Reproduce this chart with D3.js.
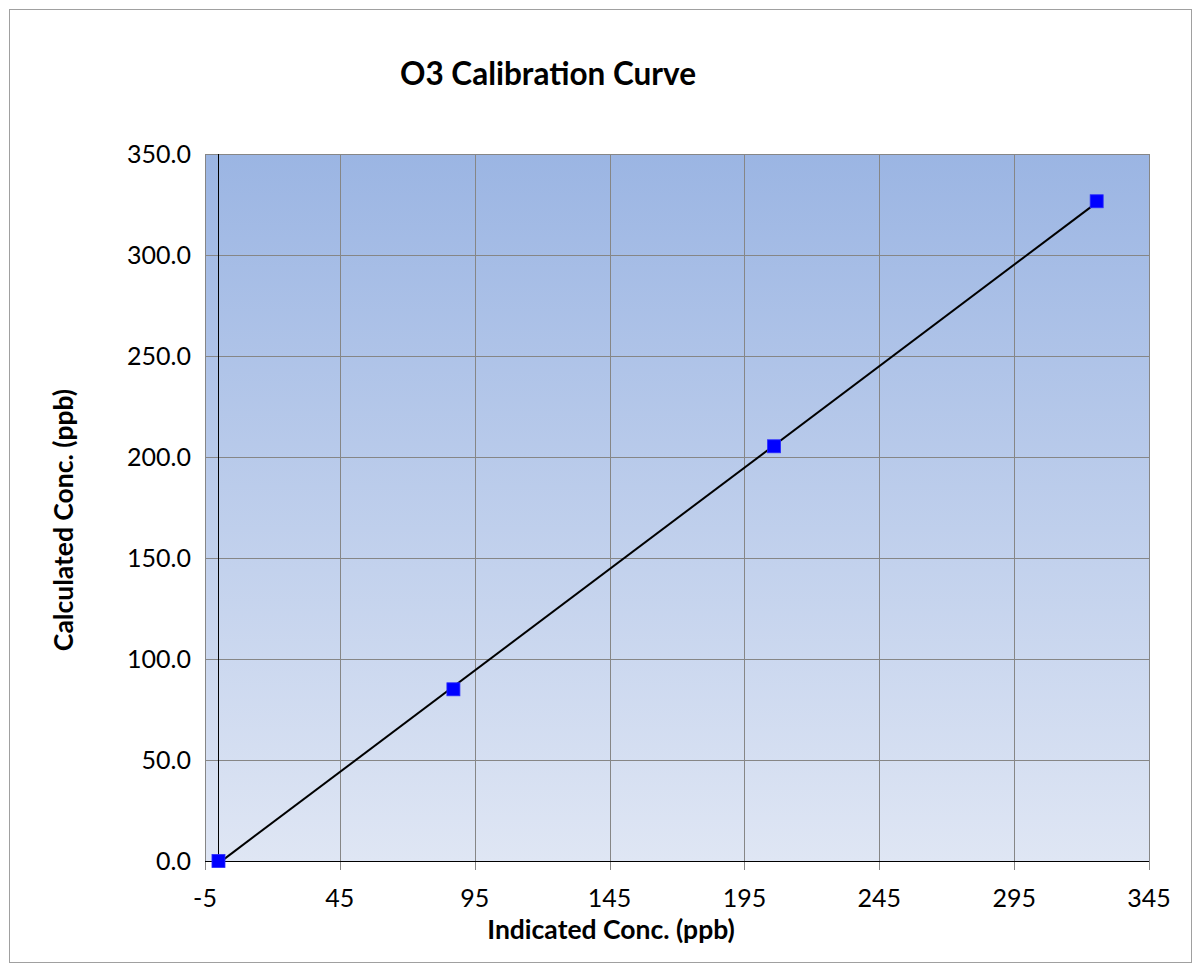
<!DOCTYPE html>
<html>
<head>
<meta charset="utf-8">
<script src="https://cdn.jsdelivr.net/npm/d3@7"></script>
<style>
  body { margin: 0; background: #fff; }
  text { font-family: Lato, "Open Sans", sans-serif; fill: #000; }
</style>
</head>
<body>
<div id="chart"></div>
<script>
// readings off the calibration (indicated vs calculated, ppb)
const indicated = [0, 87.1, 206.0, 325.6];
const calculated = [0, 85.0, 205.3, 326.6];
const xTicks = [-5, 45, 95, 145, 195, 245, 295, 345];
const yTicks = [0, 50, 100, 150, 200, 250, 300, 350];

const width = 1201, height = 972;
const margin = { top: 154, right: 52, bottom: 111, left: 205 };

const svg = d3.select("#chart").append("svg")
  .attr("width", width)
  .attr("height", height);

// outer chart border
svg.append("rect")
  .attr("x", 9.5).attr("y", 9.5)
  .attr("width", 1182).attr("height", 953)
  .attr("fill", "#fff")
  .attr("stroke", "#a0a0a0");

const x = d3.scaleLinear().domain([-5, 345]).range([margin.left, width - margin.right]);
const y = d3.scaleLinear().domain([0, 350]).range([height - margin.bottom, margin.top]);

const defs = svg.append("defs");
const grad = defs.append("linearGradient")
  .attr("id", "bg").attr("x1", 0).attr("y1", 0).attr("x2", 0).attr("y2", 1);
grad.append("stop").attr("offset", "0%").attr("stop-color", "#9bb5e3");
grad.append("stop").attr("offset", "100%").attr("stop-color", "#dfe6f4");

svg.append("rect")
  .attr("x", x(-5)).attr("y", y(350))
  .attr("width", x(345) - x(-5)).attr("height", y(0) - y(350))
  .attr("fill", "url(#bg)");

// grid lines
svg.append("g")
  .selectAll("line.vgrid")
  .data(xTicks)
  .join("line")
  .attr("x1", d => Math.round(x(d)) + 0.5).attr("x2", d => Math.round(x(d)) + 0.5)
  .attr("y1", y(350)).attr("y2", y(0) + 9)
  .attr("stroke", "#868686").attr("stroke-width", 1);

svg.append("g")
  .selectAll("line.hgrid")
  .data(yTicks)
  .join("line")
  .attr("x1", x(-5)).attr("x2", x(345))
  .attr("y1", d => Math.round(y(d)) + 0.5).attr("y2", d => Math.round(y(d)) + 0.5)
  .attr("stroke", "#868686").attr("stroke-width", 1);

// axis lines crossing at zero
svg.append("line")
  .attr("x1", Math.round(x(0)) + 0.5).attr("x2", Math.round(x(0)) + 0.5)
  .attr("y1", y(350)).attr("y2", y(0))
  .attr("stroke", "#000");
svg.append("line")
  .attr("x1", x(-5)).attr("x2", x(345))
  .attr("y1", Math.round(y(0)) + 0.5).attr("y2", Math.round(y(0)) + 0.5)
  .attr("stroke", "#000");

// tick labels
svg.append("g")
  .selectAll("text")
  .data(yTicks)
  .join("text")
  .attr("x", x(-5) - 14)
  .attr("y", d => y(d))
  .attr("dy", "0.36em")
  .attr("text-anchor", "end")
  .style("font-size", "25px")
  .text(d => d3.format(".1f")(d));

svg.append("g")
  .selectAll("text")
  .data(xTicks)
  .join("text")
  .attr("x", d => x(d))
  .attr("y", y(0) + 46)
  .attr("text-anchor", "middle")
  .style("font-size", "25px")
  .text(d => d);

// linear trendline
const mx = d3.mean(indicated), my = d3.mean(calculated);
let sxy = 0, sxx = 0;
indicated.forEach((v, i) => { sxy += (v - mx) * (calculated[i] - my); sxx += (v - mx) * (v - mx); });
const slope = sxy / sxx, icpt = my - slope * mx;
const x0 = d3.min(indicated), x1 = d3.max(indicated);
svg.append("line")
  .attr("x1", x(x0)).attr("y1", y(icpt + slope * x0))
  .attr("x2", x(x1)).attr("y2", y(icpt + slope * x1))
  .attr("stroke", "#000").attr("stroke-width", 2);

// markers
svg.append("g")
  .selectAll("rect")
  .data(indicated.map((v, i) => [v, calculated[i]]))
  .join("rect")
  .attr("x", d => x(d[0]) - 6.5)
  .attr("y", d => y(d[1]) - 6.5)
  .attr("width", 13).attr("height", 13)
  .attr("fill", "#0000ff")
  .attr("stroke", "#2a2aff").attr("stroke-width", 0.8);

// titles
svg.append("text")
  .attr("x", 548).attr("y", 85)
  .attr("text-anchor", "middle")
  .style("font-size", "31.5px").style("font-weight", "bold")
  .text("O3 Calibration Curve");

svg.append("text")
  .attr("x", 611).attr("y", 939)
  .attr("text-anchor", "middle")
  .style("font-size", "26.5px").style("font-weight", "bold")
  .text("Indicated Conc. (ppb)");

svg.append("text")
  .attr("transform", "translate(73,520) rotate(-90)")
  .attr("text-anchor", "middle")
  .style("font-size", "26.5px").style("font-weight", "bold")
  .text("Calculated Conc. (ppb)");
</script>
</body>
</html>
